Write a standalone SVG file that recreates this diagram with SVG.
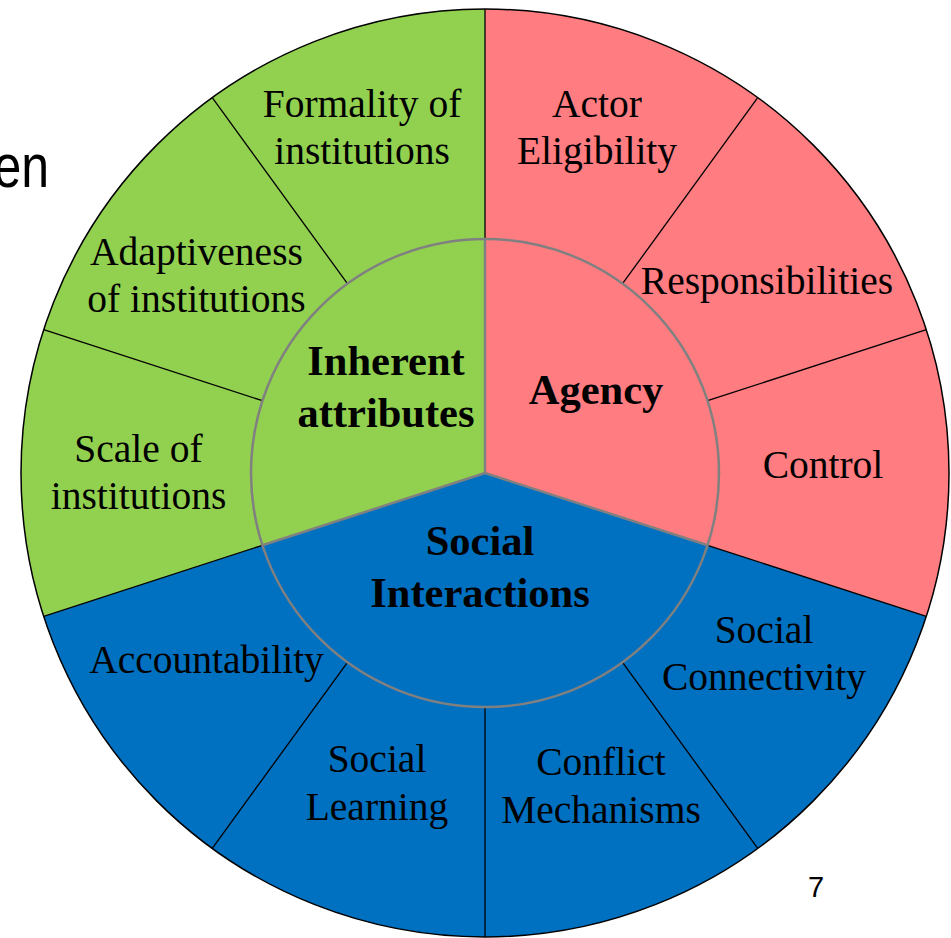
<svg xmlns="http://www.w3.org/2000/svg" width="951" height="938" viewBox="0 0 951 938">
  <style>
    .lbl { font-family: "Liberation Serif", "Times New Roman", serif; font-size: 39.5px; fill: #000; text-anchor: middle; }
    .core { font-family: "Liberation Serif", "Times New Roman", serif; font-size: 42.5px; font-weight: bold; fill: #000; text-anchor: middle; }
    .ring-div { stroke: #000; stroke-width: 1.3; fill: none; }
    .core-div { stroke: #808080; stroke-width: 2.5; fill: none; }
    .sans { font-family: "Liberation Sans", Arial, sans-serif; fill: #000; }
  </style>

  <rect width="951" height="938" fill="#fff"/>

  <!-- slide fragments -->
  <text class="sans" x="49" y="187" font-size="61" text-anchor="end" transform="translate(49 0) scale(0.82 1) translate(-49 0)">en</text>
  <text class="sans" x="816" y="897" font-size="29" text-anchor="middle">7</text>

  <!-- three coloured sectors, centre (485,473), outer radius 464 -->
  <g id="sector-inherent">
    <path d="M485 473 L485 9 A464 464 0 0 0 43.71 616.38 Z" fill="#92D050"/>
  </g>
  <g id="sector-agency">
    <path d="M485 473 L485 9 A464 464 0 0 1 926.29 616.38 Z" fill="#FF7C80"/>
  </g>
  <g id="sector-social">
    <path d="M485 473 L926.29 616.38 A464 464 0 0 1 43.71 616.38 Z" fill="#0070C0"/>
  </g>

  <!-- ring dividers (36 degree steps) and outlines -->
  <g id="dividers">
    <line class="ring-div" x1="485" y1="239" x2="485" y2="9"/>
    <line class="ring-div" x1="622.54" y1="283.69" x2="757.73" y2="97.62"/>
    <line class="ring-div" x1="707.55" y1="400.69" x2="926.29" y2="329.62"/>
    <line class="ring-div" x1="707.55" y1="545.31" x2="926.29" y2="616.38"/>
    <line class="ring-div" x1="622.54" y1="662.31" x2="757.73" y2="848.38"/>
    <line class="ring-div" x1="485" y1="707" x2="485" y2="937"/>
    <line class="ring-div" x1="347.46" y1="662.31" x2="212.27" y2="848.38"/>
    <line class="ring-div" x1="262.45" y1="545.31" x2="43.71" y2="616.38"/>
    <line class="ring-div" x1="262.45" y1="400.69" x2="43.71" y2="329.62"/>
    <line class="ring-div" x1="347.46" y1="283.69" x2="212.27" y2="97.62"/>
    <circle cx="485" cy="473" r="464" fill="none" stroke="#000" stroke-width="1.5"/>
    <line class="core-div" x1="485" y1="473" x2="485" y2="239"/>
    <line class="core-div" x1="485" y1="473" x2="707.55" y2="545.31"/>
    <line class="core-div" x1="485" y1="473" x2="262.45" y2="545.31"/>
    <circle class="core-div" cx="485" cy="473" r="234"/>
  </g>

  <!-- core labels -->
  <g id="core-inherent">
    <text class="core" x="386" y="375">Inherent</text>
    <text class="core" x="386" y="426.5">attributes</text>
  </g>
  <g id="core-agency">
    <text class="core" x="596" y="404">Agency</text>
  </g>
  <g id="core-social">
    <text class="core" x="480" y="555">Social</text>
    <text class="core" x="480" y="606.5">Interactions</text>
  </g>

  <!-- ring segment labels -->
  <g id="seg-formality">
    <text class="lbl" x="362" y="117">Formality of</text>
    <text class="lbl" x="362" y="164">institutions</text>
  </g>
  <g id="seg-actor-eligibility">
    <text class="lbl" x="597" y="117">Actor</text>
    <text class="lbl" x="597" y="164">Eligibility</text>
  </g>
  <g id="seg-responsibilities">
    <text class="lbl" x="767" y="294">Responsibilities</text>
  </g>
  <g id="seg-control">
    <text class="lbl" x="823" y="478">Control</text>
  </g>
  <g id="seg-social-connectivity">
    <text class="lbl" x="764" y="643">Social</text>
    <text class="lbl" x="764" y="690">Connectivity</text>
  </g>
  <g id="seg-conflict">
    <text class="lbl" x="601" y="775">Conflict</text>
    <text class="lbl" x="601" y="822.5">Mechanisms</text>
  </g>
  <g id="seg-social-learning">
    <text class="lbl" x="377" y="772">Social</text>
    <text class="lbl" x="377" y="820">Learning</text>
  </g>
  <g id="seg-accountability">
    <text class="lbl" x="206.5" y="673">Accountability</text>
  </g>
  <g id="seg-scale">
    <text class="lbl" x="138.5" y="461.5">Scale of</text>
    <text class="lbl" x="138.5" y="509">institutions</text>
  </g>
  <g id="seg-adaptiveness">
    <text class="lbl" x="196.5" y="265">Adaptiveness</text>
    <text class="lbl" x="196.5" y="311.5">of institutions</text>
  </g>
</svg>
